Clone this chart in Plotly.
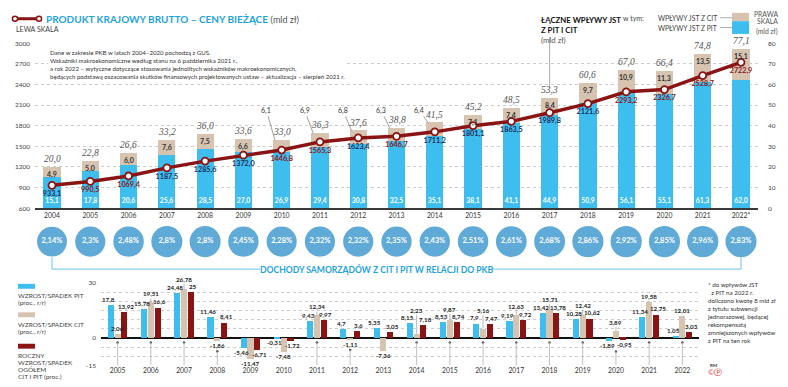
import plotly.graph_objects as go

# ---------------- data ----------------
years_top = ["2004", "2005", "2006", "2007", "2008", "2009", "2010", "2011", "2012", "2013",
             "2014", "2015", "2016", "2017", "2018", "2019", "2020", "2021", "2022*"]
pit_bn = [15.1, 17.8, 20.6, 25.6, 28.5, 27.0, 26.9, 29.4, 30.8, 32.5,
          35.1, 38.1, 41.1, 44.9, 50.9, 56.1, 55.1, 61.3, 62.0]
cit_bn = [4.9, 5.0, 6.0, 7.6, 7.5, 6.6, 6.1, 6.9, 6.8, 6.3,
          6.4, 7.1, 7.4, 8.4, 9.7, 10.9, 11.3, 13.5, 15.1]
total_bn = [20.0, 22.8, 26.6, 33.2, 36.0, 33.6, 33.0, 36.3, 37.6, 38.8,
            41.5, 45.2, 48.5, 53.3, 60.6, 67.0, 66.4, 74.8, 77.1]
gdp_bn = [933.1, 990.5, 1069.4, 1187.5, 1285.6, 1372.0, 1446.8, 1565.3, 1623.4, 1646.7,
          1711.2, 1801.1, 1863.5, 1989.8, 2121.6, 2293.2, 2326.7, 2528.7, 2722.9]
share_pct = [2.14, 2.3, 2.48, 2.8, 2.8, 2.45, 2.28, 2.32, 2.32, 2.35,
             2.43, 2.51, 2.61, 2.68, 2.86, 2.92, 2.85, 2.96, 2.83]
left_ticks = [600, 900, 1200, 1500, 1800, 2100, 2400, 2700, 3000]
right_ticks = [0, 10, 20, 30, 40, 50, 60, 70, 80]

years_bottom = ["2005", "2006", "2007", "2008", "2009", "2010", "2011", "2012", "2013",
                "2014", "2015", "2016", "2017", "2018", "2019", "2020", "2021", "2022"]
pit_growth = [17.8, 15.78, 24.48, 11.46, -5.46, -0.31, 9.43, 4.7, 5.35,
              8.15, 8.53, 7.9, 9.19, 13.42, 10.28, -1.89, 11.34, 1.05]
cit_growth = [2.06, 19.51, 26.78, -1.86, -11.47, -7.48, 12.34, -1.11, -7.36,
              2.23, 9.87, 5.16, 12.63, 15.71, 12.42, 3.89, 19.58, 12.01]
total_growth = [13.92, 16.6, 25, 8.41, -6.71, -1.72, 9.97, 3.6, 3.05,
                7.18, 8.74, 7.47, 9.72, 13.78, 10.62, -0.95, 12.75, 3.03]
bottom_ticks = [-15, 0, 30]

# ---------------- style ----------------
W, H = 788, 387
FONT = "Lato, 'Open Sans', sans-serif"
SERIF = "'Liberation Serif', 'DejaVu Serif', serif"
PIT_C = "#3EBEEE"
CIT_C = "#D7C4B0"
RED = "#8A1414"
CIRC = "#1B86C6"
TBLUE = "#1FA3DD"
GRID = "#cdcdcd"
TXT = "#444444"
NAVY = "#1e2c5a"
gdp_label_col = [NAVY, RED, RED, NAVY, NAVY, NAVY, RED, RED, NAVY, RED,
                 NAVY, NAVY, NAVY, NAVY, NAVY, RED, RED, RED, RED]
outside_cit = {6, 7, 8, 9, 10}


def py(p):
    return 1 - p / H


def px(p):
    return p / W


def f1(v):
    return f"{v:.1f}".replace(".", ",")


def fg(v):
    return f"{v}".replace(".", ",")


xs = list(range(len(years_top)))
xb = list(range(len(years_bottom)))
BW = 0.45

fig = go.Figure()

# top stacked bars (right scale)
fig.add_trace(go.Bar(
    x=xs, y=pit_bn, width=BW, offset=-BW / 2, marker=dict(color=PIT_C, line=dict(width=0)),
    text=[f1(v) for v in pit_bn], textposition="inside", insidetextanchor="start",
    textangle=0, constraintext="none",
    textfont=dict(color="white", size=6.8, family=FONT, weight="bold"),
    xaxis="x", yaxis="y", hoverinfo="skip"))
fig.add_trace(go.Bar(
    x=xs, y=cit_bn, base=pit_bn, width=BW, offset=-BW / 2,
    marker=dict(color=CIT_C, line=dict(width=0)),
    xaxis="x", yaxis="y", hoverinfo="skip"))

# GDP line (left scale)
fig.add_trace(go.Scatter(
    x=xs, y=gdp_bn, mode="lines+markers+text",
    line=dict(color=RED, width=3.5),
    marker=dict(color="white", size=7, line=dict(color=RED, width=1.8)),
    text=[f1(v) for v in gdp_bn], textposition="bottom center",
    textfont=dict(color=gdp_label_col, size=7.2, family=FONT, weight="bold"),
    xaxis="x", yaxis="y2", cliponaxis=False, hoverinfo="skip"))

# circles row
fig.add_trace(go.Scatter(
    x=xs, y=[0] * len(xs), mode="markers+text",
    marker=dict(color=CIRC, size=[26 + 1.8 * v for v in share_pct], line=dict(width=0)),
    text=[fg(v) + "%" for v in share_pct], textposition="middle center",
    textfont=dict(color="white", size=7.5, family=FONT, weight="bold"),
    xaxis="x2", yaxis="y3", cliponaxis=False, hoverinfo="skip"))

# bottom grouped bars
GW = 0.185
for vals, col, off in ((pit_growth, PIT_C, -0.205), (cit_growth, CIT_C, 0.0), (total_growth, RED, 0.205)):
    fig.add_trace(go.Bar(
        x=xb, y=vals, width=GW, offset=off - GW / 2,
        marker=dict(color=col, line=dict(width=0)),
        xaxis="x3", yaxis="y4", hoverinfo="skip"))

ann = []
shapes = []

# top chart labels
for i in xs:
    ann.append(dict(x=i, y=total_bn[i], xref="x", yref="y", text="<i>" + f1(total_bn[i]) + "</i>",
                    showarrow=False, yanchor="bottom", yshift=1,
                    font=dict(family=SERIF, size=9.5, color="#555")))
    if i in outside_cit:
        ann.append(dict(x=i - BW / 2 + 0.05, y=total_bn[i], xref="x", yref="y",
                        ax=i - 0.4, ay=47.5, axref="x", ayref="y",
                        text=f1(cit_bn[i]), showarrow=True, arrowhead=0, arrowwidth=0.7,
                        arrowcolor="#777", standoff=0,
                        font=dict(family=FONT, size=7, color="#333")))
    else:
        ann.append(dict(x=i, y=total_bn[i], xref="x", yref="y", text=f1(cit_bn[i]),
                        showarrow=False, yanchor="top", yshift=-1,
                        font=dict(family=FONT, size=7, color="#333", weight="bold")))

# bottom chart labels
LAB = dict(family=FONT, size=6.2, color="#222", weight="bold")
for i in xb:
    p, c, t = pit_growth[i], cit_growth[i], total_growth[i]
    for v, off, xsft in ((p, -0.205, -2), (t, 0.205, 2)):
        ann.append(dict(x=i + off, y=v, xref="x3", yref="y4", text=fg(v), showarrow=False,
                        yanchor="bottom" if v >= 0 else "top", xshift=xsft, borderpad=0,
                        yshift=1 if v >= 0 else 0, font=LAB))
    nb = max(p, t, 0)
    if c > 0 and c - nb < 4.5 and nb - c < 10:
        ly = max(nb + 4.5, c + 2)
        shapes.append(dict(type="line", xref="x3", yref="y4", x0=i, x1=i, y0=c, y1=ly,
                           line=dict(color="#999", width=0.7)))
        ann.append(dict(x=i, y=ly, xref="x3", yref="y4", text=fg(c), showarrow=False,
                        yanchor="bottom", borderpad=0, font=LAB))
    else:
        ann.append(dict(x=i, y=c, xref="x3", yref="y4", text=fg(c), showarrow=False,
                        yanchor="bottom" if c >= 0 else "top", borderpad=0,
                        yshift=1 if c >= 0 else 0, font=LAB))
    mn = min(p, c, t)
    top = -2.5 if mn >= 0 else mn - 5.5
    if top > -11:
        shapes.append(dict(type="line", xref="x3", yref="y4", x0=i, x1=i, y0=top, y1=-15,
                           line=dict(color="#b0b0b0", width=0.8)))
        fig.add_trace(go.Scatter(x=[i], y=[top], mode="markers", xaxis="x3", yaxis="y4",
                                 marker=dict(color="#555", size=2.5), hoverinfo="skip",
                                 cliponaxis=False))

# header left
shapes.append(dict(type="line", xref="paper", yref="paper", x0=px(15), x1=px(39),
                   y0=py(15), y1=py(15), line=dict(color=RED, width=3)))
for cx in (15, 39):
    shapes.append(dict(type="circle", xref="paper", yref="paper", x0=px(cx - 2.6), x1=px(cx + 2.6),
                       y0=py(15 + 2.6), y1=py(15 - 2.6), fillcolor="white",
                       line=dict(color=RED, width=1.5)))
ann.append(dict(x=px(44), y=py(15), xref="paper", yref="paper", xanchor="left", yanchor="middle",
                showarrow=False,
                text="<b>PRODUKT KRAJOWY BRUTTO – CENY BIEŻĄCE</b> <span style='color:#555;font-size:9px'>(mld zł)</span>",
                font=dict(family=FONT, size=10, color=TBLUE)))
ann.append(dict(x=px(14), y=py(25), xref="paper", yref="paper", xanchor="left", yanchor="middle",
                showarrow=False, text="LEWA SKALA", font=dict(family=FONT, size=7, color=TXT)))
ann.append(dict(x=px(48), y=py(44), xref="paper", yref="paper", xanchor="left", yanchor="top",
                showarrow=False, align="left", bgcolor="white", borderpad=1,
                text=("Dane w zakresie PKB w latach 2004–2020 pochodzą z GUS.<br>"
                      "Wskaźniki makroekonomiczne według stanu na 6 października 2021 r.,<br>"
                      "a rok 2022 – wytyczne dotyczące stosowania jednolitych wskaźników makroekonomicznych,<br>"
                      "będących podstawą oszacowania skutków finansowych projektowanych ustaw – aktualizacja – sierpień 2021 r."),
                font=dict(family=FONT, size=6.1, color="#333")))

# header right
ann.append(dict(x=px(539), y=py(9), xref="paper", yref="paper", xanchor="left", yanchor="top",
                showarrow=False, align="left",
                text="<b>ŁĄCZNE WPŁYWY JST<br>Z PIT I CIT</b><br><span style='color:#555'>(mld zł)</span>",
                font=dict(family=FONT, size=7.8, color="#111")))
shapes.append(dict(type="line", xref="x", yref="paper", x0=13, x1=13, y0=py(34), y1=py(86),
                   line=dict(color="#888", width=0.7)))
ann.append(dict(x=px(621), y=py(14), xref="paper", yref="paper", xanchor="left", yanchor="middle",
                showarrow=False, text="w tym:", font=dict(family=FONT, size=7, color=TXT)))
ann.append(dict(x=px(719), y=py(14), xref="paper", yref="paper", xanchor="right", yanchor="middle",
                showarrow=False, text="WPŁYWY JST Z CIT", font=dict(family=FONT, size=6.8, color=TXT)))
ann.append(dict(x=px(719), y=py(24), xref="paper", yref="paper", xanchor="right", yanchor="middle",
                showarrow=False, text="WPŁYWY JST Z PIT", font=dict(family=FONT, size=6.8, color=TXT)))
for yy in (14, 24):
    shapes.append(dict(type="line", xref="paper", yref="paper", x0=px(720), x1=px(732),
                       y0=py(yy), y1=py(yy), line=dict(color="#888", width=0.7)))
shapes.append(dict(type="rect", xref="paper", yref="paper", x0=px(732), x1=px(749),
                   y0=py(17.5), y1=py(9), fillcolor=CIT_C, line=dict(width=0)))
shapes.append(dict(type="rect", xref="paper", yref="paper", x0=px(732), x1=px(749),
                   y0=py(30.5), y1=py(17.5), fillcolor=PIT_C, line=dict(width=0)))
for txt, yy in (("PRAWA", 10.5), ("SKALA", 17.5), ("(mld zł)", 28)):
    ann.append(dict(x=px(780), y=py(yy), xref="paper", yref="paper", xanchor="right", yanchor="middle",
                    showarrow=False, text=txt, font=dict(family=FONT, size=6.8, color="#555")))

# bracket for circles
BR = "#6CC4EC"
shapes.append(dict(type="line", xref="x", yref="paper", x0=0, x1=0, y0=py(258), y1=py(270),
                   line=dict(color=BR, width=1)))
shapes.append(dict(type="line", xref="paper", yref="paper", x0=px(52), x1=px(260), y0=py(270), y1=py(270),
                   line=dict(color=BR, width=1)))
shapes.append(dict(type="line", xref="paper", yref="paper", x0=px(492), x1=px(741), y0=py(270), y1=py(270),
                   line=dict(color=BR, width=1)))
shapes.append(dict(type="line", xref="x", yref="paper", x0=18, x1=18, y0=py(258), y1=py(270),
                   line=dict(color=BR, width=1)))
ann.append(dict(x=px(376), y=py(270), xref="paper", yref="paper", xanchor="center", yanchor="middle",
                showarrow=False, text="<b>DOCHODY SAMORZĄDÓW Z CIT I PIT W RELACJI DO PKB</b>",
                font=dict(family=FONT, size=8.6, color=TBLUE)))

# bottom legend
leg = [(PIT_C, 285, ["WZROST/SPADEK PIT", "(proc., r/r)"]),
       (CIT_C, 314, ["WZROST/SPADEK CIT", "(proc., r/r)"]),
       (RED, 346, ["ROCZNY", "WZROST/SPADEK", "OGÓŁEM", "CIT I PIT (proc.)"])]
for col, ytop, lines in leg:
    shapes.append(dict(type="rect", xref="paper", yref="paper", x0=px(18), x1=px(35),
                       y0=py(ytop + 5), y1=py(ytop), fillcolor=col, line=dict(width=0)))
    for k, ln in enumerate(lines):
        ann.append(dict(x=px(17), y=py(ytop + 12 + 7.2 * k), xref="paper", yref="paper",
                        xanchor="left", yanchor="middle", showarrow=False, text=ln, borderpad=0,
                        font=dict(family=FONT, size=6.5, color=TXT)))

# footnote
ann.append(dict(x=px(705), y=py(280), xref="paper", yref="paper", xanchor="left", yanchor="top",
                showarrow=False, align="left",
                text=("* do wpływów JST<br>&nbsp;&nbsp;z PIT na 2022 r.<br>doliczono kwotę 8 mld zł<br>"
                      "z tytułu subwencji<br>jednorazowej, będącej<br>rekompensatą<br>"
                      "zmniejszonych wpływów<br>z PIT na ten rok"),
                font=dict(family=FONT, size=6.2, color="#333")))
ann.append(dict(x=px(708), y=py(368), xref="paper", yref="paper", xanchor="left", yanchor="middle",
                showarrow=False, text="<b>RM</b>", font=dict(family=FONT, size=4.5, color="#333")))
ann.append(dict(x=px(706), y=py(375), xref="paper", yref="paper", xanchor="left", yanchor="middle",
                showarrow=False, text="©Ⓟ", font=dict(family=FONT, size=7.5, color="#d9342b")))

fig.update_layout(
    width=W, height=H, margin=dict(l=0, r=0, t=0, b=0),
    paper_bgcolor="white", plot_bgcolor="rgba(0,0,0,0)",
    showlegend=False, barmode="overlay", bargap=0, hovermode=False,
    font=dict(family=FONT, size=7, color="#333"),
    annotations=ann, shapes=shapes,
    xaxis=dict(domain=[px(35), px(758)], range=[-0.444, 18.444], anchor="y",
               tickmode="array", tickvals=xs, ticktext=years_top, ticks="",
               tickfont=dict(size=6.8, color="#333"), showgrid=False, zeroline=False,
               showline=True, linecolor="#3a3a3a", linewidth=2),
    yaxis=dict(domain=[py(208), py(40)], range=[0, 80], side="right", anchor="x",
               tickmode="array", tickvals=right_ticks, ticks="", ticklabelstandoff=9,
               tickfont=dict(size=6.5, color=TXT), showgrid=True, gridcolor=GRID,
               griddash="dot", gridwidth=1, zeroline=False),
    yaxis2=dict(overlaying="y", side="left", anchor="x", range=[600, 3000],
                tickmode="array", tickvals=left_ticks, ticks="", ticklabelstandoff=4,
                tickfont=dict(size=6.5, color=TXT), showgrid=False, zeroline=False),
    xaxis2=dict(domain=[px(35), px(758)], range=[-0.444, 18.444], anchor="y3", visible=False),
    yaxis3=dict(domain=[py(262), py(222)], range=[-1, 1], anchor="x2", visible=False),
    xaxis3=dict(domain=[px(101), px(699)], range=[-0.5, 17.5], anchor="y4",
                tickmode="array", tickvals=xb, ticktext=years_bottom, ticks="",
                tickfont=dict(size=6.8, color="#333"), showgrid=False, zeroline=False,
                showline=False),
    yaxis4=dict(domain=[py(368), py(284)], range=[-15, 30], anchor="x3",
                tickmode="array", tickvals=list(range(-15, 31, 5)),
                ticktext=[str(v) if v in bottom_ticks else "" for v in range(-15, 31, 5)],
                ticks="", ticklabelstandoff=4, tickfont=dict(size=6.5, color=TXT),
                showgrid=True, gridcolor=GRID, griddash="dot", gridwidth=1,
                zeroline=True, zerolinecolor="#111", zerolinewidth=1.5),
)

fig.write_html("out.html", config={"displayModeBar": False},
               post_script="document.body.style.margin='0px';document.body.style.overflow='hidden';")
